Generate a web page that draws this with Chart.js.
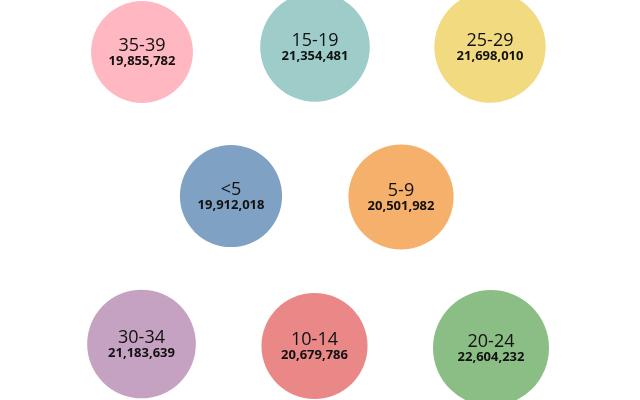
<!DOCTYPE html>
<html><head><meta charset="utf-8">
<script src="https://cdn.jsdelivr.net/npm/chart.js@4/dist/chart.umd.min.js"></script>
<style>html,body{margin:0;padding:0;background:#fff}#wrap{width:640px;height:400px}</style>
</head><body><div id="wrap"><canvas id="c" width="640" height="400"></canvas></div>
<script>
const categories = ["35-39","15-19","25-29","<5","5-9","30-34","10-14","20-24"];
const populations = [19855782,21354481,21698010,19912018,20501982,21183639,20679786,22604232];
const layoutX = [142,315,490,231,401,141.5,314.5,491];
const layoutY = [52,47,47,196,197,344,346,348];
const colors = ["#FFB7C1","#9ECDC9","#F2DA80","#7FA1C3","#F5B16B","#C6A2C2","#EA8888","#8BBE84"];

const maxPop = Math.max(...populations);
const maxR = 58;

const labelPlugin = {
  id:'bubbleLabels',
  afterDatasetsDraw(chart){
    const ctx = chart.ctx;
    const meta = chart.getDatasetMeta(0);
    ctx.save();
    ctx.textAlign='center';
    ctx.textBaseline='middle';
    ctx.fillStyle='#111';
    meta.data.forEach((el,i)=>{
      ctx.font='18px "Open Sans"';
      ctx.fillText(categories[i], el.x, el.y-6);
      ctx.font='bold 13px "Open Sans"';
      ctx.fillText(populations[i].toLocaleString('en-US'), el.x, el.y+9);
    });
    ctx.restore();
  }
};

new Chart(document.getElementById('c'),{
  type:'bubble',
  data:{datasets:[{
    data: categories.map((c,i)=>({x:layoutX[i], y:layoutY[i], v:populations[i]})),
    backgroundColor: colors,
    borderWidth:0,
    hoverBorderWidth:0,
    radius: ctx => ctx.raw ? ctx.raw.v/maxPop*maxR : 0,
    clip:false
  }]},
  options:{
    responsive:false,
    animation:false,
    layout:{padding:0, autoPadding:false},
    plugins:{legend:{display:false},tooltip:{enabled:false}},
    scales:{
      x:{type:'linear',min:0,max:640,display:false},
      y:{type:'linear',min:0,max:400,reverse:true,display:false}
    }
  },
  plugins:[labelPlugin]
});
</script></body></html>
